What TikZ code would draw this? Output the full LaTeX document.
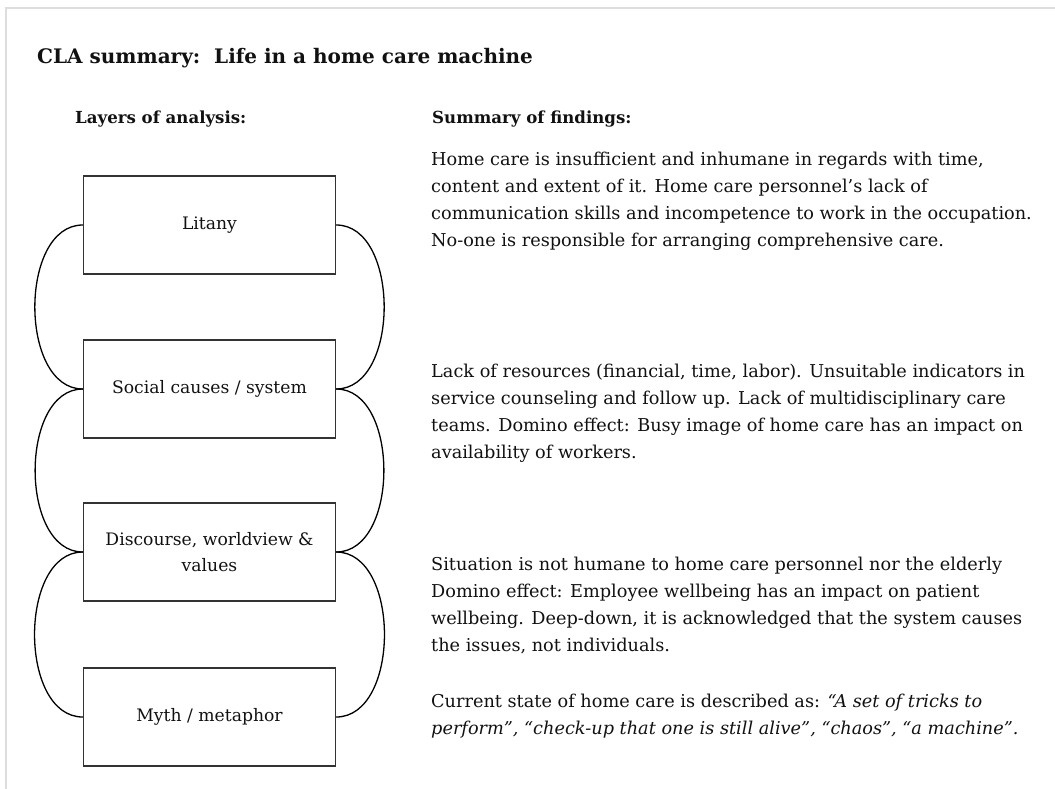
\documentclass[tikz,border=0pt]{standalone}
\usepackage{fontspec}
\setmainfont{DejaVu Serif}
\definecolor{framegray}{HTML}{DDDDDD}
\definecolor{boxgray}{HTML}{333333}
\definecolor{inkc}{HTML}{111111}
\begin{document}
\begin{tikzpicture}[x=1pt,y=-1pt,
  layerbox/.style={draw=boxgray, line width=1.4pt, minimum width=252pt,
    minimum height=98pt, align=center, inner sep=0, text=inkc,
    font=\fontsize{17.2}{26}\selectfont},
  loopline/.style={line width=1.3pt, draw=black},
  finding/.style={anchor=north west, align=left, inner sep=0, text=inkc,
    font=\fontsize{17.7}{27}\selectfont},
  heading/.style={anchor=base west, inner sep=0, text=inkc,
    font=\bfseries\fontsize{16.6}{22}\selectfont}]
\useasboundingbox (0,0) rectangle (1055,789);
% light page frame
\draw[framegray, line width=2pt] (6,789) -- (6,8) -- (1055,8);

% headings
\node[anchor=base west, inner sep=0, text=inkc,
  font=\bfseries\fontsize{20}{26}\selectfont] (title) at (37,64)
  {CLA summary:\ \ Life in a home care machine};
\node[heading] (hleft) at (75,124) {Layers of analysis:};
\node[heading] (hright) at (432,124) {Summary of findings:};

% layers
\node[layerbox] (l1) at (209.5,225) {Litany};
\node[layerbox] (l2) at (209.5,389) {Social causes / system};
\node[layerbox] (l3) at (209.5,552) {Discourse, worldview \&\\values};
\node[layerbox] (l4) at (209.5,717) {Myth / metaphor};

% loops linking neighbouring layers
\foreach \a/\b in {l1/l2, l2/l3, l3/l4}{
  \draw[loopline] (\a.west) to[out=180, in=180, looseness=1.0] (\b.west);
  \draw[loopline] (\a.east) to[out=0, in=0, looseness=1.0] (\b.east);
}

% findings
\node[finding] (f1) at (431,152) {Home care is insufficient and inhumane in regards with time,\\
content and extent of it. Home care personnel's lack of\\
communication skills and incompetence to work in the occupation.\\
No-one is responsible for arranging comprehensive care.};
\node[finding] (f2) at (431,364) {Lack of resources (financial, time, labor). Unsuitable indicators in\\
service counseling and follow up. Lack of multidisciplinary care\\
teams. Domino effect: Busy image of home care has an impact on\\
availability of workers.};
\node[finding] (f3) at (431,557) {Situation is not humane to home care personnel nor the elderly\\
Domino effect: Employee wellbeing has an impact on patient\\
wellbeing. Deep-down, it is acknowledged that the system causes\\
the issues, not individuals.};
\node[finding] (f4) at (431,694) {Current state of home care is described as: \textit{``A set of tricks to}\\
\textit{perform'', ``check-up that one is still alive'', ``chaos'', ``a machine''.}};
\end{tikzpicture}
\end{document}
